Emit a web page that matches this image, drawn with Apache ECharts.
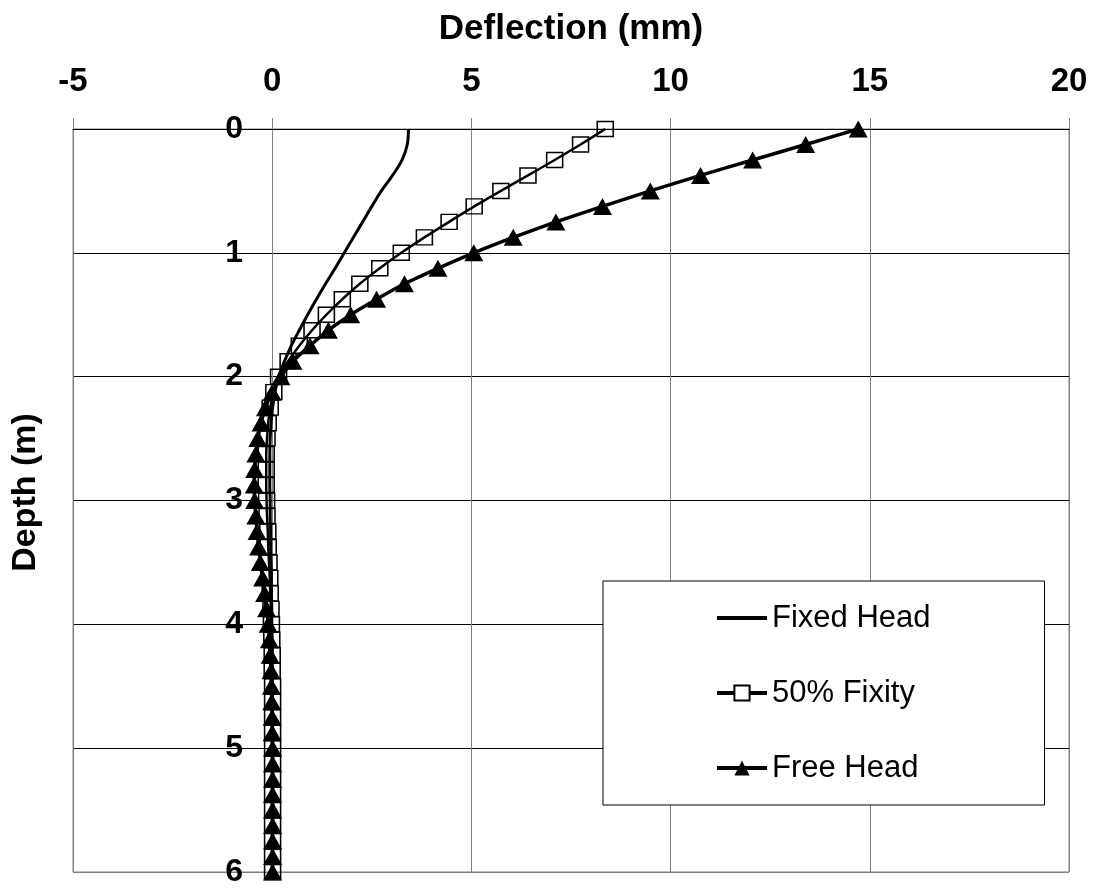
<!DOCTYPE html>
<html>
<head>
<meta charset="utf-8">
<script src="https://cdn.jsdelivr.net/npm/echarts@6/dist/echarts.min.js"></script>
<style>
  html, body { margin: 0; padding: 0; background: #fff; }
  #main { width: 1094px; height: 888px; }
</style>
</head>
<body>
<div id="main"></div>
<script>
// depth below pile head (m), one point every 0.125 m
const depth = [0, 0.125, 0.25, 0.375, 0.5, 0.625, 0.75, 0.875,
  1, 1.125, 1.25, 1.375, 1.5, 1.625, 1.75, 1.875,
  2, 2.125, 2.25, 2.375, 2.5, 2.625, 2.75, 2.875,
  3, 3.125, 3.25, 3.375, 3.5, 3.625, 3.75, 3.875,
  4, 4.125, 4.25, 4.375, 4.5, 4.625, 4.75, 4.875,
  5, 5.125, 5.25, 5.375, 5.5, 5.625, 5.75, 5.875, 6];

// deflection (mm)
const fixedHead = [3.42, 3.39, 3.26, 3.02, 2.74, 2.50, 2.27, 2.04,
  1.81, 1.58, 1.34, 1.11, 0.89, 0.68, 0.48, 0.31,
  0.16, 0.07, 0.01, -0.03, -0.05, -0.06, -0.06, -0.06,
  -0.05, -0.05, -0.04, -0.04, -0.03, -0.02, -0.02, -0.01,
  -0.01, 0, 0, 0, 0, 0, 0, 0,
  0, 0, 0, 0, 0, 0, 0, 0, 0];
const fixity50 = [8.36, 7.74, 7.09, 6.42, 5.74, 5.07, 4.44, 3.82,
  3.24, 2.70, 2.20, 1.76, 1.36, 1.00, 0.68, 0.40,
  0.16, 0.04, -0.05, -0.10, -0.13, -0.15, -0.15, -0.15,
  -0.14, -0.13, -0.11, -0.10, -0.08, -0.06, -0.05, -0.03,
  -0.02, -0.01, 0, 0, 0.01, 0.01, 0.01, 0.01,
  0.01, 0.01, 0.01, 0.01, 0.01, 0.01, 0.01, 0.01, 0.01];
const freeHead = [14.71, 13.39, 12.06, 10.75, 9.49, 8.29, 7.12, 6.05,
  5.06, 4.16, 3.32, 2.62, 1.97, 1.41, 0.95, 0.52,
  0.22, 0.0, -0.17, -0.28, -0.36, -0.41, -0.44, -0.45,
  -0.44, -0.41, -0.38, -0.34, -0.30, -0.24, -0.19, -0.14,
  -0.10, -0.07, -0.05, -0.03, -0.02, -0.01, 0, 0,
  0.01, 0.01, 0.01, 0.01, 0.01, 0.01, 0.01, 0.01, 0.01];

const seriesNames = ['Fixed Head', '50% Fixity', 'Free Head'];
const xTicks = [-5, 0, 5, 10, 15, 20];
const yTicks = [0, 1, 2, 3, 4, 5, 6];

const font = 'Arial, "Liberation Sans", sans-serif';
const pairs = vals => vals.map((v, i) => [v, depth[i]]);

const chart = echarts.init(document.getElementById('main'));

// horizontal gridlines black, the bottom one is the gray plot border
const hLineColors = yTicks.map((t, i) => i === yTicks.length - 1 ? '#808080' : '#000');

// plain line icon for the series without markers (extra moveTo points keep the box 50x19)
const lineIcon = 'path://M0,0L0,0M0,7.5L50,7.5L50,11.5L0,11.5ZM50,19L50,19';

const option = {
  animation: false,
  backgroundColor: '#fff',
  grid: {
    left: 73, right: 25, top: 129, bottom: 16,
    containLabel: false, outerBoundsMode: 'none',
    show: true, borderColor: '#808080', borderWidth: 1
  },
  legend: {
    orient: 'vertical',
    left: 603, top: 581,
    padding: [19, 114, 19, 112],
    itemGap: 39,
    itemWidth: 50, itemHeight: 19,
    backgroundColor: '#fff',
    borderColor: '#000', borderWidth: 1, borderRadius: 0,
    lineStyle: { width: 4 },
    textStyle: { fontFamily: font, fontSize: 31, color: '#000', lineHeight: 36 },
    data: [
      { name: seriesNames[0], icon: lineIcon },
      { name: seriesNames[1], itemStyle: { color: '#fff' } },
      { name: seriesNames[2] }
    ]
  },
  xAxis: {
    type: 'value',
    position: 'top',
    min: xTicks[0], max: xTicks[xTicks.length - 1], interval: xTicks[1] - xTicks[0],
    name: 'Deflection (mm)',
    nameLocation: 'middle',
    nameGap: 82,
    nameTextStyle: { fontFamily: font, fontWeight: 'bold', fontSize: 35, color: '#000' },
    axisLine: { show: true, onZero: false, lineStyle: { color: '#000', width: 1 } },
    axisTick: { show: true, length: 11, lineStyle: { color: '#808080' } },
    axisLabel: { fontFamily: font, fontWeight: 'bold', fontSize: 33, color: '#000', margin: 31 },
    splitLine: { show: true, lineStyle: { color: '#808080', width: 1 } }
  },
  yAxis: {
    type: 'value',
    inverse: true,
    min: yTicks[0], max: yTicks[yTicks.length - 1], interval: yTicks[1] - yTicks[0],
    name: 'Depth (m)',
    nameLocation: 'middle',
    nameRotate: 90,
    nameGap: 30,
    nameTextStyle: { fontFamily: font, fontWeight: 'bold', fontSize: 34, color: '#000', padding: [0, 0, 0, 16] },
    axisLine: { show: false, onZero: false },
    axisTick: { show: false },
    // labels sit just left of the x = 0 line
    axisLabel: { fontFamily: font, fontWeight: 'bold', fontSize: 32, color: '#000', margin: -170 },
    splitLine: { show: true, lineStyle: { color: hLineColors, width: 1 } }
  },
  series: [
    {
      name: seriesNames[0],
      type: 'line',
      data: pairs(fixedHead),
      symbol: 'none',
      smooth: 0.4,
      lineStyle: { color: '#000', width: 3 },
      itemStyle: { color: '#000' },
      z: 3
    },
    {
      name: seriesNames[1],
      type: 'line',
      data: pairs(fixity50),
      symbol: 'rect',
      symbolSize: [16, 15],
      smooth: 0.2,
      lineStyle: { color: '#000', width: 2.5 },
      itemStyle: { color: 'rgba(255,255,255,0)', borderColor: '#000', borderWidth: 1.5 },
      z: 4
    },
    {
      name: seriesNames[2],
      type: 'line',
      data: pairs(freeHead),
      symbol: 'triangle',
      symbolSize: [19, 17],
      smooth: 0.2,
      lineStyle: { color: '#000', width: 3.5 },
      itemStyle: { color: '#000' },
      z: 5
    }
  ]
};

chart.setOption(option);
</script>
</body>
</html>
